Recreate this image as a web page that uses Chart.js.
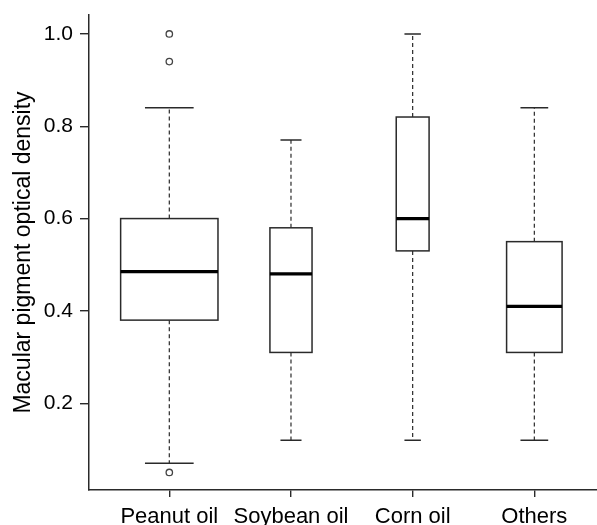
<!DOCTYPE html>
<html>
<head>
<meta charset="utf-8">
<script src="https://cdn.jsdelivr.net/npm/chart.js@4.4.1/dist/chart.umd.min.js"></script>
<style>
  html, body { margin: 0; padding: 0; background: #fff; overflow: hidden; }
  #wrap { width: 597px; height: 525px; }
</style>
</head>
<body>
<div id="wrap"><canvas id="box" width="597" height="525"></canvas></div>
<script>
// data
const categories = ["Peanut oil", "Soybean oil", "Corn oil", "Others"];
const whiskerLow  = [0.07, 0.12, 0.12, 0.12];
const q1          = [0.38, 0.31, 0.53, 0.31];
const medians     = [0.485, 0.48, 0.60, 0.41];
const q3          = [0.60, 0.58, 0.82, 0.55];
const whiskerHigh = [0.84, 0.77, 1.00, 0.84];
const outliers    = [[1.0, 0.94, 0.05], [], [], []];
const yTicks      = [0.2, 0.4, 0.6, 0.8, 1.0];

// styling: box widths in x units (varwidth look)
const boxWidths = [0.80, 0.346, 0.27, 0.456];
const lineCol = "#2a2a2a";
const FONT = "'Liberation Sans', Arial, Helvetica, sans-serif";

// outlier points as a scatter dataset
const outlierPts = [];
outliers.forEach((arr, i) => arr.forEach(v => outlierPts.push({ x: i + 1, y: v })));

// draws the boxes / whiskers through the chart's scales
const boxPlugin = {
  id: "boxes",
  beforeDatasetsDraw(chart) {
    const { ctx, scales: { x, y } } = chart;
    ctx.save();
    categories.forEach((c, i) => {
      const cx = x.getPixelForValue(i + 1);
      const half = (x.getPixelForValue(i + 1 + boxWidths[i] / 2) - cx);
      const yLo = y.getPixelForValue(whiskerLow[i]);
      const yQ1 = y.getPixelForValue(q1[i]);
      const yMed = y.getPixelForValue(medians[i]);
      const yQ3 = y.getPixelForValue(q3[i]);
      const yHi = y.getPixelForValue(whiskerHigh[i]);

      // whiskers (dashed)
      ctx.strokeStyle = lineCol;
      ctx.lineWidth = 1.2;
      ctx.setLineDash([4, 3]);
      ctx.beginPath();
      ctx.moveTo(cx, yQ3); ctx.lineTo(cx, yHi);
      ctx.moveTo(cx, yQ1); ctx.lineTo(cx, yLo);
      ctx.stroke();
      ctx.setLineDash([]);

      // caps
      ctx.lineWidth = 1.5;
      ctx.beginPath();
      ctx.moveTo(cx - half / 2, yHi); ctx.lineTo(cx + half / 2, yHi);
      ctx.moveTo(cx - half / 2, yLo); ctx.lineTo(cx + half / 2, yLo);
      ctx.stroke();

      // box
      ctx.fillStyle = "#fff";
      ctx.fillRect(cx - half, yQ3, half * 2, yQ1 - yQ3);
      ctx.lineWidth = 1.5;
      ctx.strokeRect(cx - half, yQ3, half * 2, yQ1 - yQ3);

      // median
      ctx.strokeStyle = "#000";
      ctx.lineWidth = 3.2;
      ctx.beginPath();
      ctx.moveTo(cx - half, yMed); ctx.lineTo(cx + half, yMed);
      ctx.stroke();
    });
    ctx.restore();
  }
};

new Chart(document.getElementById("box"), {
  type: "scatter",
  data: {
    datasets: [{
      data: outlierPts,
      pointRadius: 3.2,
      pointBorderWidth: 1.3,
      pointBorderColor: "#444",
      pointBackgroundColor: "rgba(255,255,255,0)"
    }]
  },
  options: {
    responsive: false,
    animation: false,
    layout: { autoPadding: false, padding: { top: 15, right: 0, left: 0, bottom: 0 } },
    plugins: { legend: { display: false }, tooltip: { enabled: false } },
    scales: {
      x: {
        type: "linear",
        min: 0.34,
        max: 4.515,
        afterBuildTicks: s => { s.ticks = categories.map((c, i) => ({ value: i + 1 })); },
        afterFit: s => { s.height = 35; s.paddingLeft = 0; s.paddingRight = 0; },
        ticks: {
          autoSkip: false, maxRotation: 0, padding: 7,
          color: "#000",
          font: { family: FONT, size: 22 },
          callback: v => categories[v - 1]
        },
        grid: { drawOnChartArea: false, drawTicks: true, tickLength: 7, color: lineCol, lineWidth: 1.4 },
        border: { display: true, color: lineCol, width: 1.5 }
      },
      y: {
        min: 0.012,
        max: 1.041,
        afterBuildTicks: s => { s.ticks = yTicks.map(v => ({ value: v })); },
        afterFit: s => { s.width = 89; s.paddingTop = 0; s.paddingBottom = 0; },
        ticks: {
          padding: 7,
          color: "#000",
          font: { family: FONT, size: 21 },
          callback: v => Number(v).toFixed(1)
        },
        grid: { drawOnChartArea: false, drawTicks: true, tickLength: 9, color: lineCol, lineWidth: 1.4 },
        border: { display: true, color: lineCol, width: 1.5 },
        title: {
          display: true,
          text: "Macular pigment optical density",
          color: "#000",
          font: { family: FONT, size: 23 },
          padding: { top: 10, bottom: 0 }
        }
      }
    }
  },
  plugins: [boxPlugin]
});
</script>
</body>
</html>
